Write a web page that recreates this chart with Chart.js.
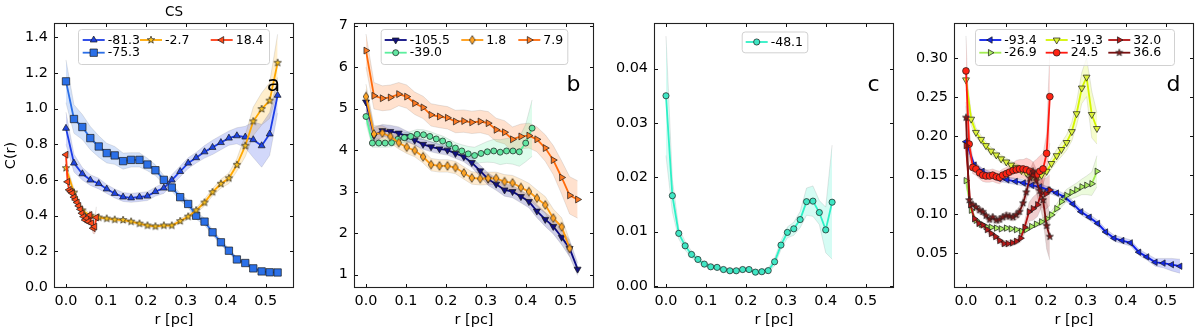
<!DOCTYPE html>
<html>
<head>
<meta charset="utf-8">
<title>C(r) profiles</title>
<script src="https://cdn.jsdelivr.net/npm/chart.js@4/dist/chart.umd.min.js"></script>
<style>
    body { margin: 0; background: #fff; }
    #wrap { display: flex; width: 1200px; height: 331px; }
    canvas { display: block; }
</style>
</head>
<body>
<div id="wrap">
    <canvas id="chartA" width="300" height="331"></canvas>
    <canvas id="chartB" width="300" height="331"></canvas>
    <canvas id="chartC" width="300" height="331"></canvas>
    <canvas id="chartD" width="300" height="331"></canvas>
</div>
<script>
// ---- tick labels ----
var ticksX = [0, 0.1, 0.2, 0.3, 0.4, 0.5];
var ticksYA = [0, 0.2, 0.4, 0.6, 0.8, 1.0, 1.2, 1.4];
var ticksYB = [1, 2, 3, 4, 5, 6, 7];
var ticksYC = [0, 0.01, 0.02, 0.03, 0.04];
var ticksYD = [0.05, 0.10, 0.15, 0.20, 0.25, 0.30];

// ---- radius grids (pc) ----
var rGrid = [0, 0.020, 0.041, 0.061, 0.082, 0.102, 0.122, 0.143, 0.163, 0.184, 0.204, 0.224, 0.245, 0.265,
    0.286, 0.306, 0.326, 0.347, 0.367, 0.388, 0.408, 0.428, 0.449, 0.469, 0.490, 0.510, 0.530];
var rFine = [0, 0.004, 0.008, 0.012, 0.016, 0.020, 0.024, 0.028, 0.032, 0.036, 0.040, 0.044, 0.048, 0.052,
    0.056, 0.060, 0.064, 0.068, 0.072, 0.076];
var rC = [0, 0.016, 0.032, 0.048, 0.064, 0.080, 0.096, 0.112, 0.128, 0.144, 0.160, 0.176, 0.192, 0.208,
    0.224, 0.240, 0.256, 0.272, 0.288, 0.304, 0.320, 0.336, 0.352, 0.368, 0.384, 0.400, 0.416];
var rD1 = [0, 0.021, 0.041, 0.062, 0.082, 0.103, 0.124, 0.144, 0.165, 0.185, 0.206, 0.227, 0.247, 0.268,
    0.288, 0.309, 0.330, 0.350, 0.371, 0.391, 0.412, 0.433, 0.453, 0.474, 0.494, 0.515, 0.536];
var rD2 = [0, 0.013, 0.025, 0.038, 0.050, 0.063, 0.076, 0.088, 0.101, 0.113, 0.126, 0.139, 0.151, 0.164,
    0.176, 0.189, 0.202, 0.214, 0.227, 0.239, 0.252, 0.265, 0.277, 0.290, 0.302, 0.315, 0.328];
var rD3 = [0, 0.008, 0.017, 0.025, 0.034, 0.042, 0.050, 0.059, 0.067, 0.076, 0.084, 0.092, 0.101, 0.109,
    0.118, 0.126, 0.134, 0.143, 0.151, 0.160, 0.168, 0.176, 0.185, 0.193, 0.202, 0.210];
var rD4 = [0, 0.011, 0.021, 0.032, 0.042, 0.053, 0.063, 0.074, 0.084, 0.095, 0.105, 0.116, 0.126, 0.137,
    0.147, 0.158, 0.168, 0.179, 0.189, 0.200, 0.210];

// ---- panel a (CS) ----
var a813 = [0.89, 0.695, 0.635, 0.60, 0.58, 0.55, 0.525, 0.505, 0.50, 0.505, 0.51, 0.535, 0.555, 0.60,
    0.648, 0.695, 0.725, 0.758, 0.783, 0.81, 0.835, 0.848, 0.841, 0.826, 0.792, 0.858, 1.075];
var a813Err = [0.09, 0.05, 0.035, 0.03, 0.03, 0.025, 0.025, 0.025, 0.025, 0.025, 0.025, 0.025, 0.03, 0.03,
    0.03, 0.03, 0.03, 0.035, 0.04, 0.04, 0.04, 0.045, 0.06, 0.1, 0.12, 0.12, 0.1];
var a753 = [1.153, 0.942, 0.897, 0.835, 0.788, 0.751, 0.738, 0.706, 0.713, 0.713, 0.687, 0.655, 0.601, 0.558,
    0.504, 0.466, 0.40, 0.367, 0.307, 0.251, 0.204, 0.155, 0.135, 0.105, 0.088, 0.083, 0.082];
var a753Err = [0.12, 0.08, 0.07, 0.065, 0.06, 0.055, 0.05, 0.045, 0.04, 0.04, 0.035, 0.03, 0.025, 0.02,
    0.02, 0.02, 0.02, 0.02, 0.015, 0.015, 0.012, 0.012, 0.01, 0.01, 0.01, 0.01, 0.01];
var a27 = [0.667, 0.53, 0.43, 0.40, 0.39, 0.384, 0.378, 0.376, 0.367, 0.356, 0.345, 0.34, 0.345, 0.345,
    0.37, 0.395, 0.43, 0.474, 0.532, 0.579, 0.61, 0.685, 0.792, 0.929, 0.998, 1.045, 1.257];
var a27Err = [0.03, 0.02, 0.015, 0.012, 0.01, 0.01, 0.01, 0.01, 0.01, 0.01, 0.01, 0.01, 0.01, 0.01,
    0.012, 0.015, 0.015, 0.02, 0.02, 0.025, 0.03, 0.035, 0.06, 0.08, 0.09, 0.1, 0.16];
var a184 = [0.742, 0.59, 0.545, 0.535, 0.526, 0.504, 0.489, 0.474, 0.455, 0.436, 0.414, 0.395, 0.376, 0.386,
    0.367, 0.404, 0.358, 0.33, 0.339, 0.39];
var a184Err = [0.02, 0.02, 0.02, 0.02, 0.02, 0.02, 0.02, 0.02, 0.02, 0.02, 0.02, 0.02, 0.02, 0.02,
    0.02, 0.025, 0.025, 0.03, 0.04, 0.06];

// ---- panel b ----
var b1055 = [5.16, 4.35, 4.47, 4.45, 4.41, 4.33, 4.24, 4.14, 4.08, 4.03, 4.0, 3.92, 3.84, 3.70,
    3.50, 3.30, 3.18, 3.04, 3.0, 2.88, 2.76, 2.53, 2.33, 2.16, 1.90, 1.63, 1.13];
var b1055Err = [0.3, 0.2, 0.15, 0.15, 0.15, 0.13, 0.12, 0.12, 0.12, 0.12, 0.12, 0.12, 0.12, 0.12,
    0.14, 0.15, 0.15, 0.15, 0.15, 0.15, 0.15, 0.16, 0.17, 0.18, 0.18, 0.2, 0.15];
var b390 = [4.81, 4.17, 4.17, 4.17, 4.18, 4.26, 4.30, 4.33, 4.38, 4.37, 4.33, 4.27, 4.22, 4.14,
    4.05, 3.98, 3.91, 3.87, 3.92, 3.96, 3.98, 3.95, 3.98, 3.98, 3.96, 4.17, 4.53];
var b390Err = [0.15, 0.1, 0.1, 0.1, 0.1, 0.1, 0.12, 0.12, 0.12, 0.12, 0.12, 0.12, 0.12, 0.12,
    0.13, 0.15, 0.18, 0.2, 0.22, 0.25, 0.28, 0.3, 0.3, 0.32, 0.35, 0.45, 0.68];
var b18 = [5.29, 4.39, 4.41, 4.33, 4.18, 4.07, 3.99, 3.84, 3.65, 3.62, 3.62, 3.58, 3.45, 3.33,
    3.31, 3.32, 3.32, 3.24, 3.21, 3.10, 3.0, 2.84, 2.68, 2.36, 2.15, 1.63];
var b18Err = [0.3, 0.2, 0.18, 0.16, 0.15, 0.15, 0.15, 0.15, 0.15, 0.15, 0.15, 0.15, 0.15, 0.15,
    0.15, 0.15, 0.15, 0.17, 0.18, 0.2, 0.2, 0.2, 0.2, 0.22, 0.22, 0.2];
var b79 = [6.40, 5.31, 5.25, 5.27, 5.35, 5.29, 5.13, 5.03, 4.85, 4.81, 4.78, 4.69, 4.70, 4.67,
    4.69, 4.65, 4.49, 4.43, 4.26, 4.33, 4.35, 4.26, 4.05, 3.76, 3.34, 2.91, 2.81];
var b79Err = [0.4, 0.32, 0.3, 0.3, 0.28, 0.28, 0.27, 0.27, 0.27, 0.27, 0.27, 0.27, 0.27, 0.27,
    0.27, 0.28, 0.28, 0.28, 0.3, 0.3, 0.3, 0.3, 0.32, 0.35, 0.4, 0.45, 0.45];

// ---- panel c ----
var c481 = [0.0350, 0.0166, 0.00966, 0.00737, 0.00578, 0.00486, 0.0040, 0.0035, 0.0034, 0.0030, 0.00277,
    0.00277, 0.0030, 0.0030, 0.00252, 0.0026, 0.0028, 0.00443, 0.0075, 0.00984, 0.0105, 0.0122, 0.0155,
    0.0156, 0.0135, 0.0103, 0.0154];
var c481Err = [0.011, 0.003, 0.001, 0.0008, 0.0006, 0.0005, 0.0004, 0.0004, 0.0004, 0.0004, 0.0004,
    0.0004, 0.0004, 0.0004, 0.0004, 0.0004, 0.0005, 0.0007, 0.0008, 0.001, 0.0012, 0.0015, 0.0025,
    0.0028, 0.0022, 0.0042, 0.0105];

// ---- panel d ----
var d934 = [0.193, 0.163, 0.155, 0.150, 0.146, 0.144, 0.142, 0.140, 0.137, 0.135, 0.131, 0.127, 0.122, 0.113,
    0.103, 0.096, 0.088, 0.077, 0.069, 0.066, 0.063, 0.051, 0.045, 0.038, 0.037, 0.035, 0.033];
var d934Err = [0.008, 0.004, 0.004, 0.004, 0.004, 0.004, 0.004, 0.004, 0.004, 0.004, 0.004, 0.004, 0.004, 0.004,
    0.004, 0.004, 0.004, 0.004, 0.004, 0.004, 0.004, 0.004, 0.004, 0.005, 0.006, 0.008, 0.009];
var d269 = [0.143, 0.105, 0.092, 0.087, 0.084, 0.083, 0.082, 0.081, 0.082, 0.081, 0.080, 0.078, 0.080, 0.084,
    0.087, 0.090, 0.094, 0.099, 0.107, 0.116, 0.124, 0.128, 0.131, 0.135, 0.137, 0.139, 0.155];
var d269Err = [0.006, 0.004, 0.003, 0.003, 0.003, 0.003, 0.003, 0.003, 0.003, 0.003, 0.003, 0.003, 0.003, 0.003,
    0.003, 0.004, 0.004, 0.005, 0.006, 0.007, 0.008, 0.008, 0.009, 0.01, 0.012, 0.015, 0.02];
var d193 = [0.2725, 0.222, 0.205, 0.196, 0.188, 0.181, 0.176, 0.171, 0.167, 0.163, 0.160, 0.156, 0.153, 0.149,
    0.146, 0.150, 0.155, 0.165, 0.175, 0.183, 0.192, 0.206, 0.229, 0.262, 0.276, 0.228, 0.210];
var d193Err = [0.012, 0.008, 0.006, 0.005, 0.005, 0.005, 0.005, 0.005, 0.005, 0.005, 0.005, 0.005, 0.005, 0.005,
    0.005, 0.005, 0.006, 0.007, 0.008, 0.009, 0.01, 0.012, 0.015, 0.02, 0.025, 0.03, 0.02];
var d245 = [0.284, 0.190, 0.160, 0.158, 0.153, 0.150, 0.149, 0.149, 0.150, 0.148, 0.147, 0.150, 0.152, 0.154,
    0.156, 0.157, 0.158, 0.158, 0.157, 0.155, 0.152, 0.150, 0.155, 0.158, 0.178, 0.251];
var d245Err = [0.045, 0.02, 0.008, 0.008, 0.008, 0.008, 0.008, 0.008, 0.008, 0.008, 0.008, 0.008, 0.008, 0.01,
    0.01, 0.012, 0.012, 0.012, 0.015, 0.015, 0.015, 0.02, 0.02, 0.02, 0.025, 0.06];
var d320 = [0.188, 0.112, 0.094, 0.088, 0.086, 0.080, 0.075, 0.071, 0.066, 0.062, 0.062, 0.063, 0.065, 0.069,
    0.083, 0.103, 0.107, 0.112, 0.127, 0.126, 0.131];
var d320Err = [0.01, 0.005, 0.004, 0.004, 0.004, 0.004, 0.004, 0.004, 0.004, 0.004, 0.004, 0.004, 0.004, 0.005,
    0.008, 0.012, 0.015, 0.015, 0.018, 0.02, 0.02];
var d366 = [0.224, 0.118, 0.112, 0.109, 0.105, 0.103, 0.098, 0.093, 0.096, 0.092, 0.093, 0.096, 0.098, 0.097,
    0.096, 0.099, 0.103, 0.114, 0.128, 0.146, 0.155, 0.143, 0.13, 0.118, 0.085, 0.071];
var d366Err = [0.02, 0.006, 0.005, 0.005, 0.005, 0.005, 0.005, 0.005, 0.005, 0.005, 0.005, 0.005, 0.005, 0.005,
    0.005, 0.006, 0.007, 0.008, 0.01, 0.01, 0.012, 0.015, 0.02, 0.025, 0.03, 0.03];

var FONT = 'DejaVu Sans';
Chart.defaults.font.family = FONT;

/**
 * hex colour -> rgba string
 */
function fade(hex, a) {
    var n = parseInt(hex.slice(1), 16);
    return 'rgba(' + (n >> 16) + ',' + ((n >> 8) & 255) + ',' + (n & 255) + ',' + a + ')';
}

// filled 5-point star like matplotlib '*'
function makeStar(face, R) {
    var s = Math.ceil(R * 2 + 2);
    if (s % 2) s++;
    var c = document.createElement('canvas');
    c.width = s; c.height = s;
    var g = c.getContext('2d');
    g.beginPath();
    for (var i = 0; i < 10; i++) {
        var rr = i % 2 === 0 ? R : R * 0.42;
        var ang = -Math.PI / 2 + i * Math.PI / 5;
        g.lineTo(s / 2 + rr * Math.cos(ang), s / 2 + rr * Math.sin(ang));
    }
    g.closePath();
    g.fillStyle = face; g.fill();
    g.strokeStyle = '#222'; g.lineWidth = 0.7; g.stroke();
    return c;
}

// thin diamond like matplotlib 'd'
function makeDiamond(face, hw, hh) {
    var w = Math.ceil(hw * 2 + 2), h = Math.ceil(hh * 2 + 2);
    if (w % 2) w++;
    if (h % 2) h++;
    var c = document.createElement('canvas');
    c.width = w; c.height = h;
    var g = c.getContext('2d');
    g.beginPath();
    g.moveTo(w / 2, h / 2 - hh);
    g.lineTo(w / 2 + hw, h / 2);
    g.lineTo(w / 2, h / 2 + hh);
    g.lineTo(w / 2 - hw, h / 2);
    g.closePath();
    g.fillStyle = face; g.fill();
    g.strokeStyle = '#222'; g.lineWidth = 0.7; g.stroke();
    return c;
}

/**
 * Build the error band (two datasets filled between) and the marker line
 */
function seriesSets(label, xs, ys, errs, st, idx) {
    var up = xs.map(function (x, i) { return { x: x, y: ys[i] + errs[i] }; });
    var lo = xs.map(function (x, i) { return { x: x, y: ys[i] - errs[i] }; });
    var pts = xs.map(function (x, i) { return { x: x, y: ys[i] }; });
    var edge = 'rgba(110,110,110,0.22)';
    return [
        { label: '', isBand: true, data: up, borderColor: edge, borderWidth: 0.8, backgroundColor: fade(st.color, 0.2),
          fill: '+1', pointRadius: 0, order: 10 },
        { label: '', isBand: true, data: lo, borderColor: edge, borderWidth: 0.8, fill: false, pointRadius: 0, order: 10 },
        { label: label, data: pts, borderColor: st.color, borderWidth: 1.8, fill: false,
          pointStyle: st.marker, pointRotation: st.rot || 0, pointRadius: st.r,
          pointBackgroundColor: st.face, pointBorderColor: '#1a1a1a', pointBorderWidth: 0.7, order: -idx }
    ];
}

/**
 * Frame, inward ticks, legend, labels (matplotlib look)
 */
var mplPanel = {
    id: 'mplPanel',
    afterDraw: function (chart, args, opts) {
        var ctx = chart.ctx, ca = chart.chartArea;
        var xs = chart.scales.x, ys = chart.scales.y;
        ctx.save();

        // inward ticks on all four sides
        ctx.strokeStyle = '#111';
        ctx.lineWidth = 1;
        ctx.beginPath();
        ticksX.forEach(function (v) {
            var p = Math.round(xs.getPixelForValue(v)) + 0.5;
            ctx.moveTo(p, ca.bottom); ctx.lineTo(p, ca.bottom - 4);
            ctx.moveTo(p, ca.top); ctx.lineTo(p, ca.top + 4);
        });
        opts.ticksY.forEach(function (v) {
            var p = Math.round(ys.getPixelForValue(v)) + 0.5;
            ctx.moveTo(ca.left, p); ctx.lineTo(ca.left + 4, p);
            ctx.moveTo(ca.right, p); ctx.lineTo(ca.right - 4, p);
        });
        ctx.stroke();

        // frame
        ctx.strokeStyle = '#222';
        ctx.lineWidth = 1.1;
        ctx.strokeRect(ca.left + 0.5, ca.top + 0.5, ca.right - ca.left - 1, ca.bottom - ca.top - 1);

        // legend
        var lg = opts.legend;
        ctx.beginPath();
        ctx.roundRect(lg.x + 0.5, lg.y + 0.5, lg.w, lg.h, 3);
        ctx.fillStyle = 'rgba(255,255,255,0.8)';
        ctx.fill();
        ctx.strokeStyle = 'rgba(204,204,204,0.9)';
        ctx.lineWidth = 1;
        ctx.stroke();
        var lines = chart.data.datasets.filter(function (d) { return !d.isBand; });
        lines.forEach(function (ds, i) {
            var slot = lg.slots[i];
            var hx = lg.colX[slot[0]], hy = lg.rowY[slot[1]];
            ctx.strokeStyle = ds.borderColor;
            ctx.lineWidth = 1.8;
            ctx.beginPath();
            ctx.moveTo(hx, hy); ctx.lineTo(hx + 22, hy);
            ctx.stroke();
            ctx.fillStyle = ds.pointBackgroundColor;
            ctx.strokeStyle = ds.pointBorderColor;
            ctx.lineWidth = ds.pointBorderWidth;
            Chart.helpers.drawPoint(ctx, { pointStyle: ds.pointStyle, rotation: ds.pointRotation,
                radius: ds.pointRadius, borderWidth: ds.pointBorderWidth }, hx + 11, hy);
            ctx.fillStyle = '#000';
            ctx.font = '12.5px "' + FONT + '"';
            ctx.textAlign = 'left';
            ctx.textBaseline = 'middle';
            ctx.fillText(ds.label, hx + 25, hy + 0.5);
        });

        // panel letter
        ctx.fillStyle = '#000';
        ctx.font = '22px "' + FONT + '"';
        ctx.textAlign = 'center';
        ctx.textBaseline = 'alphabetic';
        ctx.fillText(opts.letter, 273.5, 91);

        // axis titles
        ctx.font = '14.5px "' + FONT + '"';
        ctx.textBaseline = 'middle';
        ctx.fillText('r [pc]', (ca.left + ca.right) / 2, 320);
        if (opts.yTitle) {
            ctx.save();
            ctx.translate(11, (ca.top + ca.bottom) / 2);
            ctx.rotate(-Math.PI / 2);
            ctx.fillText(opts.yTitle, 0, 0);
            ctx.restore();
        }
        if (opts.title) {
            ctx.font = '13.5px "' + FONT + '"';
            ctx.fillText(opts.title, (ca.left + ca.right) / 2, 12.5);
        }
        ctx.restore();
    }
};

function panelChart(canvasId, datasets, yMin, yMax, yTicks, yDigits, extra) {
    var canvas = document.getElementById(canvasId);
    if (!canvas) {
        console.error('panelChart: canvas ' + canvasId + ' not found');
        return null;
    }
    var tickFont = { family: FONT, size: 14.4 };
    return new Chart(canvas.getContext('2d'), {
        type: 'line',
        data: { datasets: datasets },
        plugins: [mplPanel],
        options: {
            responsive: false,
            animation: false,
            events: [],
            layout: { padding: { left: 0, right: 6, top: 23, bottom: 0 } },
            elements: { line: { tension: 0 } },
            scales: {
                x: {
                    type: 'linear', min: -0.03, max: 0.571,
                    grid: { display: false, drawTicks: false }, border: { display: false },
                    ticks: { padding: 5, color: '#000', font: tickFont, maxRotation: 0, autoSkip: false,
                        callback: function (v) { return v.toFixed(1); } },
                    afterBuildTicks: function (s) { s.ticks = ticksX.map(function (v) { return { value: v }; }); },
                    afterFit: function (s) { s.height = 43; }
                },
                y: {
                    type: 'linear', min: yMin, max: yMax,
                    grid: { display: false, drawTicks: false }, border: { display: false },
                    ticks: { padding: 6, color: '#000', font: tickFont, autoSkip: false,
                        callback: function (v) { return v.toFixed(yDigits); } },
                    afterBuildTicks: function (s) { s.ticks = yTicks.map(function (v) { return { value: v }; }); },
                    afterFit: function (s) { s.width = 54; }
                }
            },
            plugins: {
                legend: { display: false },
                tooltip: { enabled: false },
                mplPanel: extra
            }
        }
    });
}

// ---- panel a ----
var setsA = [].concat(
    seriesSets('-81.3', rGrid, a813, a813Err, { color: '#1c3de6', face: '#1f44e0', marker: 'triangle', r: 4 }, 0),
    seriesSets('-75.3', rGrid, a753, a753Err, { color: '#2a6ee6', face: '#2b70e8', marker: 'rect', r: 5.2 }, 1),
    seriesSets('-2.7', rGrid, a27, a27Err, { color: '#ffa800', face: '#f8c020', marker: 'circle', r: 3.8 }, 2),
    seriesSets('18.4', rFine, a184, a184Err, { color: '#ff3a12', face: '#ff4a1a', marker: 'triangle', rot: 270, r: 4 }, 3)
);
// stars for -2.7
setsA[8].pointStyle = makeStar('#f8c020', 3.9);

panelChart('chartA', setsA, -0.005, 1.48, ticksYA, 1, {
    ticksY: ticksYA, letter: 'a', yTitle: 'C(r)', title: 'CS',
    legend: { x: 78, y: 29, w: 191, h: 35, colX: [82.7, 140, 210.7], rowY: [40, 52.7],
        slots: [[0, 0], [0, 1], [1, 0], [2, 0]] }
});

// ---- panel b ----
var setsB = [].concat(
    seriesSets('-105.5', rGrid, b1055, b1055Err, { color: '#0a0a80', face: '#10107e', marker: 'triangle', rot: 180, r: 4 }, 0),
    seriesSets('-39.0', rC, b390, b390Err, { color: '#5cef9e', face: '#62e6a2', marker: 'circle', r: 3 }, 1),
    seriesSets('1.8', rGrid.slice(0, 26), b18, b18Err, { color: '#ff9a10', face: '#ffa424', marker: 'circle', r: 4 }, 2),
    seriesSets('7.9', rGrid, b79, b79Err, { color: '#ff6a0a', face: '#ff7a22', marker: 'triangle', rot: 90, r: 4 }, 3)
);
// thin diamonds for 1.8
setsB[8].pointStyle = makeDiamond('#ffa424', 2.8, 4.4);

panelChart('chartB', setsB, 0.676, 7.065, ticksYB, 0, {
    ticksY: ticksYB, letter: 'b',
    legend: { x: 80.7, y: 29, w: 186.6, h: 35, colX: [84.7, 161.3, 218.3], rowY: [40, 52.7],
        slots: [[0, 0], [0, 1], [1, 0], [2, 0]] }
});

// ---- panel c ----
var setsC = seriesSets('-48.1', rC, c481, c481Err, { color: '#2ef0c6', face: '#40e6c4', marker: 'circle', r: 3.1 }, 0);

panelChart('chartC', setsC, -0.0004, 0.0484, ticksYC, 2, {
    ticksY: ticksYC, letter: 'c',
    legend: { x: 141.7, y: 31.5, w: 65.6, h: 20.8, colX: [145.7], rowY: [42],
        slots: [[0, 0]] }
});

// ---- panel d ----
var setsD = [].concat(
    seriesSets('-93.4', rD1, d934, d934Err, { color: '#0b1ee8', face: '#1428e0', marker: 'triangle', rot: 270, r: 3.7 }, 0),
    seriesSets('-26.9', rD2, d269, d269Err, { color: '#a2ec52', face: '#aaec62', marker: 'triangle', rot: 90, r: 3.7 }, 1),
    seriesSets('-19.3', rD2, d193, d193Err, { color: '#d4f400', face: '#dcf23c', marker: 'triangle', rot: 180, r: 4 }, 2),
    seriesSets('24.5', rD3, d245, d245Err, { color: '#ff1a10', face: '#ff2414', marker: 'circle', r: 3.4 }, 3),
    seriesSets('32.0', rD4, d320, d320Err, { color: '#b01010', face: '#b41818', marker: 'triangle', rot: 90, r: 3.7 }, 4),
    seriesSets('36.6', rD3, d366, d366Err, { color: '#7a1010', face: '#801818', marker: 'circle', r: 3.4 }, 5)
);
// stars for 36.6
setsD[17].pointStyle = makeStar('#801818', 3.7);

panelChart('chartD', setsD, 0.005, 0.3456, ticksYD, 2, {
    ticksY: ticksYD, letter: 'd',
    legend: { x: 75, y: 29, w: 199, h: 36, colX: [79.3, 145.7, 208.3], rowY: [40, 52.7],
        slots: [[0, 0], [0, 1], [1, 0], [1, 1], [2, 0], [2, 1]] }
});
</script>
</body>
</html>
